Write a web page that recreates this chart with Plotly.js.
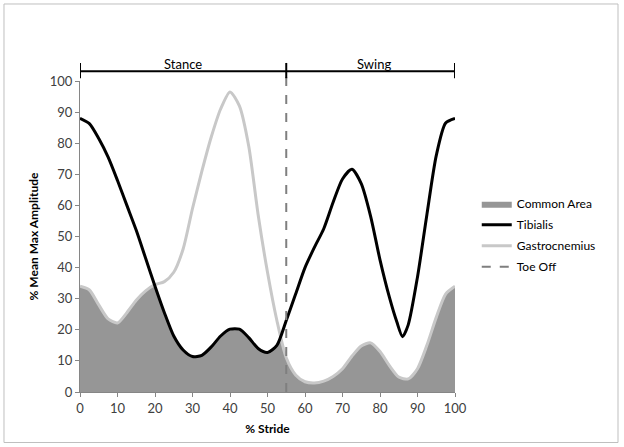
<!DOCTYPE html>
<html>
<head>
<meta charset="utf-8">
<script src="https://cdn.plot.ly/plotly-3.0.1.min.js"></script>
<style>
  body { margin: 0; background: #fff; }
  #chart { width: 624px; height: 447px; }
</style>
</head>
<body>
<div id="chart"></div>
<script>
// % stride, sampled every 2.5 (tibialis gets an extra point at its swing minimum)
const stride = [0, 2.5, 5, 7.5, 10, 12.5, 15, 17.5, 20, 22.5, 25, 27.5, 30, 32.5, 35, 37.5, 40, 42.5, 45, 47.5,
  50, 52.5, 55, 57.5, 60, 62.5, 65, 67.5, 70, 72.5, 75, 77.5, 80, 82.5, 85, 87.5, 90, 92.5, 95, 97.5, 100]

const tibX = [0, 2.5, 5, 7.5, 10, 12.5, 15, 17.5, 20, 22.5, 25, 27.5, 30, 32.5, 35, 37.5, 40, 42.5, 45, 47.5,
  50, 52.5, 55, 57.5, 60, 62.5, 65, 67.5, 70, 72.5, 75, 77.5, 80, 82.5, 84.5, 86, 87.5, 90, 92.5, 95, 97.5, 100]
const tibialis = [88, 86.3, 81.5, 75.5, 68, 60, 52, 43, 34, 25.5, 18, 13.5, 11.4, 11.8, 14.5, 18, 20.2, 20.2, 17.5, 14,
  12.7, 15, 23, 31.5, 40, 46.5, 52.5, 61, 68.5, 71.6, 67, 56.5, 42.5, 30.5, 22.5, 17.8, 21.5, 37, 57, 76, 86.5, 88]

const gastrocnemius = [34, 32.8, 28, 23.5, 22.2, 25.5, 29.5, 32.5, 34.5, 35.5, 38.5, 46, 59, 71, 82, 91, 96.5, 92, 79, 57,
  38.5, 23, 11, 5.5, 3.3, 2.9, 3.5, 5, 7.5, 11.5, 14.8, 15.8, 13, 8.5, 4.8, 4.2, 7.5, 15, 24, 31.5, 34]

// common area has its own x so it meets the two crossings
const commonX = [0, 2.5, 5, 7.5, 10, 12.5, 15, 17.5, 19.5, 22.5, 25, 27.5, 30, 32.5, 35, 37.5, 40, 42.5, 45, 47.5,
  50, 52.5, 53.5, 55, 57.5, 60, 62.5, 65, 67.5, 70, 72.5, 75, 77.5, 80, 82.5, 85, 87.5, 90, 92.5, 95, 97.5, 100]
const commonArea = [34, 32.8, 28, 23.5, 22.2, 25.5, 29.5, 32.5, 34.5, 25.5, 18, 13.5, 11.4, 11.8, 14.5, 18, 20.2, 20.2, 17.5, 14,
  12.7, 15, 18.5, 11, 5.5, 3.3, 2.9, 3.5, 5, 7.5, 11.5, 14.8, 15.8, 13, 8.5, 4.8, 4.2, 7.5, 15, 24, 31.5, 34]

const toeOff = 55
const phases = ['Stance', 'Swing']
const xTicks = [0, 10, 20, 30, 40, 50, 60, 70, 80, 90, 100]
const yTicks = [0, 10, 20, 30, 40, 50, 60, 70, 80, 90, 100]

const font = 'Lato, "Open Sans", sans-serif'

const data = [
  {
    type: 'scatter', mode: 'lines', name: 'Common Area', legendgroup: 'a', legendrank: 1,
    x: commonX, y: commonArea,
    line: { width: 0, color: '#969696', shape: 'spline', smoothing: 0.7 },
    fill: 'tozeroy', fillcolor: '#969696'
  },
  {
    type: 'scatter', mode: 'lines', name: 'Gastrocnemius', legendgroup: 'c', legendrank: 3,
    x: stride, y: gastrocnemius,
    line: { width: 3, color: '#c8c8c8', shape: 'spline', smoothing: 0.7 }
  },
  {
    type: 'scatter', mode: 'lines', name: 'Tibialis', legendgroup: 'b', legendrank: 2,
    x: tibX, y: tibialis,
    line: { width: 3, color: '#000000', shape: 'spline', smoothing: 0.7 }
  }
]

const shapes = [
  // chart border
  { type: 'rect', xref: 'paper', yref: 'paper', x0: -0.2027, x1: 1.4347, y0: -0.1624, y1: 1.2476,
    line: { color: '#bfbfbf', width: 1 }, fillcolor: 'rgba(0,0,0,0)', layer: 'below' },
  // toe off
  { type: 'line', xref: 'x', yref: 'paper', x0: toeOff, x1: toeOff, y0: 0, y1: 1.03,
    line: { color: '#7f7f7f', width: 2, dash: 'dash' }, showlegend: true, name: 'Toe Off',
    legendgroup: 'd', legendrank: 4 },
  // phase bar
  { type: 'line', xref: 'x', yref: 'paper', x0: 0, x1: 100, y0: 1.031, y1: 1.031, line: { color: '#000', width: 2 } }
]
for (const xv of [0, toeOff, 100]) {
  shapes.push({ type: 'line', xref: 'x', yref: 'paper', x0: xv, x1: xv, y0: 1.009, y1: 1.058,
    line: { color: '#000', width: 2 } })
}

const annotations = [
  { text: phases[0], x: toeOff / 2, xref: 'x', y: 1.031, yref: 'paper', yanchor: 'bottom', showarrow: false,
    yshift: -3, font: { family: font, size: 13, color: '#000' } },
  { text: phases[1], x: (toeOff + 100) / 2 + 1, xref: 'x', y: 1.031, yref: 'paper', yanchor: 'bottom', showarrow: false,
    yshift: -3, font: { family: font, size: 13, color: '#000' } }
]

const layout = {
  width: 624, height: 447,
  margin: { l: 80, r: 169, t: 81, b: 55 },
  paper_bgcolor: '#fff', plot_bgcolor: '#fff',
  font: { family: font, size: 13, color: '#404040' },
  showlegend: true,
  legend: { x: 1.058, y: 0.652, xanchor: 'left', yanchor: 'top', itemwidth: 30,
    traceorder: 'grouped', tracegroupgap: 2,
    font: { family: font, size: 12, color: '#000' }, bgcolor: 'rgba(0,0,0,0)' },
  xaxis: {
    range: [0, 100], tickvals: xTicks, ticks: 'outside', ticklen: 4, tickcolor: '#868686',
    showline: true, linecolor: '#868686', showgrid: false, zeroline: false,
    title: { text: '<b>% Stride</b>', standoff: 10, font: { family: font, size: 12, color: '#000' } }
  },
  yaxis: {
    range: [0, 100], tickvals: yTicks, ticks: 'outside', ticklen: 4, tickcolor: '#868686',
    showline: true, linecolor: '#868686', showgrid: false, zeroline: false,
    title: { text: '<b>% Mean Max Amplitude</b>', standoff: 8, font: { family: font, size: 12, color: '#000' } }
  },
  shapes: shapes,
  annotations: annotations
}

Plotly.newPlot('chart', data, layout, { staticPlot: true })
</script>
</body>
</html>
